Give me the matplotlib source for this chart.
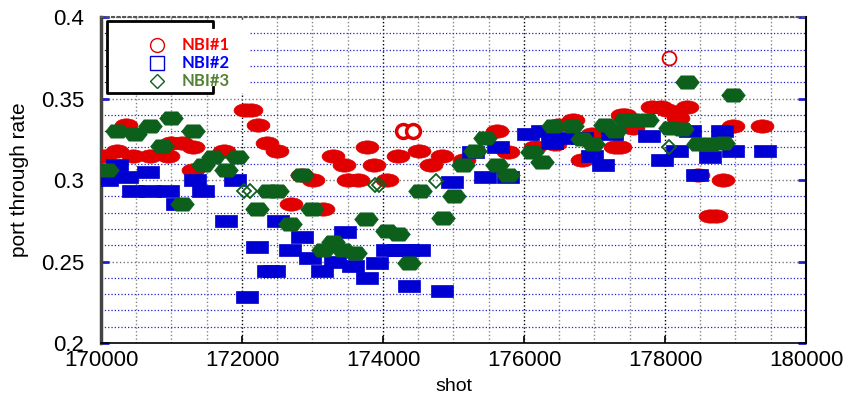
import matplotlib
matplotlib.use("Agg")
import matplotlib.pyplot as plt
from matplotlib.path import Path
from matplotlib.lines import Line2D
from matplotlib.patches import Rectangle
from matplotlib.ticker import MultipleLocator

# NBI#1 (red) - port through rate vs shot
nbi1_shot = [170050, 170230, 170350, 170450, 170700, 170950, 171000, 171150, 171300, 171300,
             171750, 172050, 172130, 172230, 172350, 172500, 172700, 172850, 173010, 173150,
             173290, 173450, 173500, 173650, 173770, 173870, 174060, 174210, 174510, 174680,
             174840, 175150, 175620, 175770, 176160, 176440, 176480, 176700, 176820, 176960,
             177290, 177360, 177390, 177430, 177550, 177815, 177950, 178030, 178180, 178310,
             178470, 178640, 178720, 178820, 178960, 179380]
nbi1_rate = [0.315, 0.318, 0.334, 0.315, 0.315, 0.315, 0.323, 0.323, 0.320, 0.306,
             0.318, 0.343, 0.343, 0.334, 0.323, 0.318, 0.285, 0.303, 0.300, 0.282,
             0.315, 0.309, 0.300, 0.300, 0.320, 0.309, 0.300, 0.315, 0.318, 0.309,
             0.315, 0.312, 0.330, 0.317, 0.320, 0.322, 0.334, 0.337, 0.312, 0.328,
             0.320, 0.320, 0.340, 0.340, 0.332, 0.345, 0.345, 0.343, 0.338, 0.345,
             0.303, 0.278, 0.278, 0.300, 0.333, 0.333]

# NBI#2 (blue)
nbi2_shot = [170085, 170230, 170370, 170450, 170670, 170700, 170950, 171080, 171330, 171450,
             171770, 171900, 172070, 172210, 172370, 172450, 172510, 172680, 172850, 172960,
             173130, 173320, 173460, 173570, 173770, 173910, 174060, 174210, 174360, 174510,
             174370, 174840, 174980, 175280, 175450, 175630, 175770, 176060, 176250, 176400,
             176540, 176820, 176960, 177120, 177250, 177770, 177960, 178170, 178350, 178450,
             178640, 178810, 178960, 179420]
nbi2_rate = [0.300, 0.309, 0.302, 0.293, 0.305, 0.293, 0.293, 0.285, 0.300, 0.293,
             0.275, 0.300, 0.228, 0.259, 0.244, 0.244, 0.275, 0.257, 0.265, 0.252,
             0.244, 0.250, 0.268, 0.247, 0.240, 0.249, 0.257, 0.257, 0.257, 0.257,
             0.235, 0.232, 0.299, 0.317, 0.302, 0.320, 0.302, 0.328, 0.330, 0.323,
             0.326, 0.326, 0.315, 0.309, 0.328, 0.327, 0.312, 0.318, 0.330, 0.303,
             0.314, 0.330, 0.318, 0.318]

# NBI#3 (green)
nbi3_shot = [170085, 170230, 170480, 170700, 170870, 171000, 171150, 171300, 171450, 171590,
             171770, 171930, 172210, 172370, 172500, 172680, 172850, 172990, 173150, 173290,
             173430, 173600, 173760, 174060, 174210, 174370, 174520, 174850, 175010, 175130,
             175300, 175450, 175620, 175770, 176110, 176250, 176410, 176680, 176820, 176980,
             177150, 177290, 177430, 177550, 177740, 178070, 178240, 178310, 178470, 178650,
             178830, 178960]
nbi3_rate = [0.306, 0.330, 0.328, 0.333, 0.321, 0.338, 0.285, 0.330, 0.309, 0.314,
             0.306, 0.314, 0.282, 0.293, 0.293, 0.273, 0.303, 0.282, 0.257, 0.262,
             0.257, 0.255, 0.276, 0.269, 0.267, 0.249, 0.293, 0.277, 0.290, 0.309,
             0.318, 0.326, 0.309, 0.303, 0.317, 0.311, 0.333, 0.333, 0.325, 0.322,
             0.334, 0.330, 0.337, 0.337, 0.337, 0.332, 0.331, 0.360, 0.322, 0.322,
             0.323, 0.352]

# single shots drawn as thin open symbols
nbi1_open_shot = [174280, 174430, 178060]
nbi1_open_rate = [0.330, 0.330, 0.375]
nbi3_open_shot = [172030, 172120, 173880, 173940, 174750, 178060]
nbi3_open_rate = [0.293, 0.293, 0.297, 0.297, 0.2995, 0.320]

red = '#e00000'
blue = '#0000d2'
green = '#0c601c'

plt.rcParams['font.family'] = ['Liberation Sans', 'DejaVu Sans']

# wide marker shapes (overlapping shots look like stretched symbols)
circ = Path.unit_circle()
ellipse = Path(circ.vertices * [1, 0.58], circ.codes)
box = Path([(-1, -0.56), (1, -0.56), (1, 0.56), (-1, 0.56), (-1, -0.56)],
           [Path.MOVETO, Path.LINETO, Path.LINETO, Path.LINETO, Path.CLOSEPOLY])
hexa = Path([(-1, 0), (-0.55, 0.56), (0.55, 0.56), (1, 0), (0.55, -0.56), (-0.55, -0.56), (-1, 0)],
            [Path.MOVETO] + [Path.LINETO] * 5 + [Path.CLOSEPOLY])

fig = plt.figure(figsize=(8.45, 4.01), dpi=100)
ax = fig.add_axes([0.1195, 0.1446, 0.8343, 0.813])

ax.plot(nbi1_shot, nbi1_rate, ls='none', marker=ellipse, ms=16.5, mfc=red, mec=red, mew=0.5, zorder=3)
ax.plot(nbi1_open_shot[:2], nbi1_open_rate[:2], ls='none', marker='o', ms=10, mfc='white', mec=red, mew=2.5, zorder=3)
ax.plot(nbi1_open_shot[2:], nbi1_open_rate[2:], ls='none', marker='o', ms=10, mfc='none', mec=red, mew=1.3, zorder=3)
ax.plot(nbi2_shot, nbi2_rate, ls='none', marker=box, ms=16.5, mfc=blue, mec=blue, mew=0.5, zorder=3)
ax.plot(nbi3_shot, nbi3_rate, ls='none', marker=hexa, ms=17, mfc=green, mec=green, mew=0.5, zorder=3)
ax.plot(nbi3_open_shot, nbi3_open_rate, ls='none', marker='D', ms=7, mfc='none', mec=green, mew=1.3, zorder=3)

ax.set_xlim(170000, 180000)
ax.set_ylim(0.2, 0.4)
ax.xaxis.set_major_locator(MultipleLocator(2000))
ax.xaxis.set_minor_locator(MultipleLocator(500))
ax.yaxis.set_major_locator(MultipleLocator(0.05))
ax.yaxis.set_minor_locator(MultipleLocator(0.01))
ax.set_yticks([0.2, 0.25, 0.3, 0.35, 0.4])
ax.set_yticklabels(['0.2', '0.25', '0.3', '0.35', '0.4'])

ax.grid(True, axis='x', which='major', color='black', linestyle=':', linewidth=1)
ax.grid(True, axis='x', which='minor', color='#888888', linestyle=':', linewidth=1)
ax.grid(True, axis='y', which='major', color='#777777', linestyle=':', linewidth=1)
ax.grid(True, axis='y', which='minor', color='#2020d0', linestyle=':', linewidth=0.9)
ax.set_axisbelow(True)

ax.tick_params(axis='x', which='major', direction='in', length=5, width=1.2, color='black',
               labelsize=16, pad=5, top=False)
ax.tick_params(axis='x', which='minor', length=0)
ax.tick_params(axis='y', which='major', direction='in', length=6, width=2, color='#2020d0',
               labelsize=16, pad=12, right=True)
ax.tick_params(axis='y', which='minor', length=0)

ax.spines['left'].set_linewidth(2.5)
ax.spines['left'].set_color('#444444')
ax.spines['top'].set_color('#555555')
ax.spines['top'].set_linewidth(1.5)
ax.spines['top'].set_linestyle(':')
ax.spines['right'].set_linewidth(1.5)
ax.spines['bottom'].set_linewidth(1.2)

ax.set_xlabel('shot', fontsize=14, labelpad=5)
ax.set_ylabel('port through rate', fontsize=15, labelpad=9)

# legend: white background, black frame open on the right side
def px(x, y):
    return ((x - 101) / 705.0, (343 - y) / 326.0)

x0, y0 = px(107, 93)
x1, y1 = px(250, 21)
ax.add_patch(Rectangle((x0, y0), x1 - x0, y1 - y0, transform=ax.transAxes,
                       facecolor='white', edgecolor='none', zorder=5, clip_on=False))
fx = [px(213, 27), px(213, 21), px(107, 21), px(107, 93), px(213, 93), px(213, 87)]
ax.add_line(Line2D([p[0] for p in fx], [p[1] for p in fx], transform=ax.transAxes,
                   color='black', linewidth=2, zorder=6, clip_on=False))

handles = [Line2D([], [], ls='none', marker='o', ms=10, mfc='none', mec=red, mew=1),
           Line2D([], [], ls='none', marker='s', ms=10, mfc='none', mec=blue, mew=1),
           Line2D([], [], ls='none', marker='D', ms=7.5, mfc='none', mec=green, mew=1)]
leg = ax.legend(handles, ['NBI#1', 'NBI#2', 'NBI#3'], loc='upper left',
                bbox_to_anchor=px(132, 29), borderpad=0, frameon=False,
                handlelength=2, handletextpad=0.45, labelspacing=0.12,
                prop={'family': 'Lato', 'weight': 'bold', 'size': 12},
                labelcolor=['#ff0000', '#0000ff', '#548235'])
leg.set_zorder(7)

fig.savefig('out.png', dpi=100)
